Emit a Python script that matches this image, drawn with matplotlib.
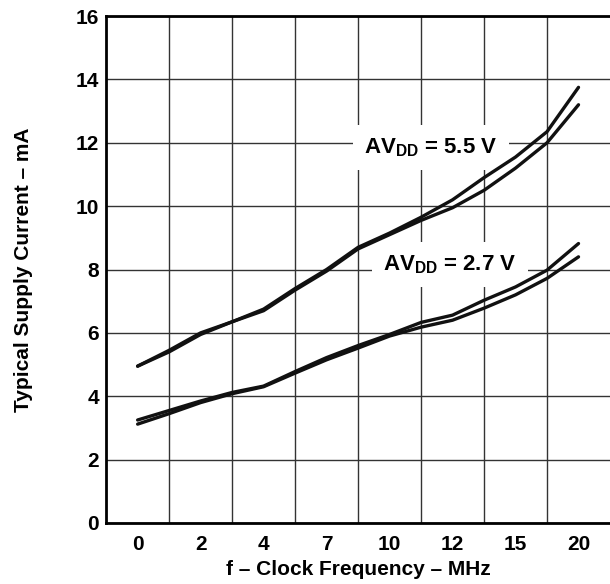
import numpy as np
import matplotlib.pyplot as plt

plt.rcParams['font.family'] = ['Liberation Sans', 'DejaVu Sans']
plt.rcParams['font.weight'] = 'bold'
plt.rcParams['mathtext.fontset'] = 'custom'
plt.rcParams['mathtext.rm'] = 'Liberation Sans:bold'
plt.rcParams['mathtext.bf'] = 'Liberation Sans:bold'

# tick labels of the (non-linear) frequency axis, MHz
tick_freq = [0, 2, 4, 7, 10, 12, 15, 20]

# sample frequencies, MHz
freq = [0, 1, 2, 3, 4, 5.5, 7, 8.5, 10, 11, 12, 13.5, 15, 17.5, 20]

# AVDD = 5.5 V, two curves (mA)
i55_a = [4.95, 5.45, 6.0, 6.35, 6.75, 7.4, 8.0, 8.7, 9.15, 9.65, 10.2, 10.9, 11.55, 12.35, 13.75]
i55_b = [4.95, 5.4, 5.95, 6.35, 6.7, 7.35, 7.95, 8.65, 9.1, 9.55, 9.95, 10.5, 11.2, 12.0, 13.2]

# AVDD = 2.7 V, two curves (mA)
i27_a = [3.25, 3.55, 3.85, 4.12, 4.32, 4.78, 5.22, 5.6, 5.95, 6.33, 6.56, 7.03, 7.45, 7.98, 8.82]
i27_b = [3.12, 3.45, 3.8, 4.08, 4.3, 4.73, 5.15, 5.52, 5.9, 6.18, 6.4, 6.78, 7.2, 7.72, 8.4]

# axis is drawn with equally spaced ticks, each in the middle of a grid cell
tick_pos = np.arange(len(tick_freq)) + 0.5
x = np.interp(freq, tick_freq, tick_pos)

fig = plt.figure(figsize=(6.1, 5.84), dpi=100)
ax = fig.add_axes([0.174, 0.1045, 0.826, 0.868])

for y in (i55_a, i55_b, i27_a, i27_b):
    ax.plot(x, y, color='#111111', lw=2.4, solid_capstyle='round', zorder=3)

ax.set_xlim(0, 8)
ax.set_ylim(0, 16)
ax.set_xticks(np.arange(1, 8), minor=False)
ax.set_xticklabels([])
ax.set_xticks(tick_pos, minor=True)
ax.set_xticklabels([str(f) for f in tick_freq], minor=True)
ax.set_yticks(np.arange(0, 17, 2))
ax.tick_params(axis='both', which='both', length=0, labelsize=15)
ax.tick_params(axis='x', which='minor', pad=9)
ax.tick_params(axis='y', pad=5)
ax.grid(True, which='major', color='#333333', lw=1.0, zorder=1)

for side in ('left', 'bottom', 'top'):
    ax.spines[side].set_linewidth(2)
ax.spines['right'].set_visible(False)

ax.set_xlabel('f – Clock Frequency – MHz', fontsize=15, fontweight='bold', labelpad=4)
ax.set_ylabel('Typical Supply Current – mA', fontsize=15, fontweight='bold', labelpad=31)

box = dict(facecolor='white', edgecolor='none', pad=8)
ax.text(5.16, 11.85, r'AV$_{\rm DD}$ = 5.5 V', fontsize=16, fontweight='bold',
        ha='center', va='center', bbox=box, zorder=2)
ax.text(5.46, 8.15, r'AV$_{\rm DD}$ = 2.7 V', fontsize=16, fontweight='bold',
        ha='center', va='center', bbox=box, zorder=2)

fig.savefig('out.png', dpi=100)
